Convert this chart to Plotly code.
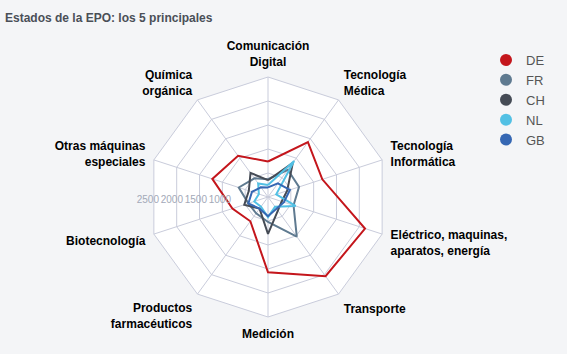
import plotly.graph_objects as go

categories = [
    "Comunicación<br>Digital",
    "Tecnología<br>Médica",
    "Tecnología<br>Informática",
    "Eléctrico, maquinas,<br>aparatos, energía",
    "Transporte",
    "Medición",
    "Productos<br>farmacéuticos",
    "Biotecnología",
    "Otras máquinas<br>especiales",
    "Química<br>orgánica",
]

DE = [740, 1415, 1190, 2125, 2040, 1570, 625, 780, 1220, 1060]
FR = [370, 700, 680, 560, 1020, 520, 420, 430, 640, 480]
CH = [350, 880, 420, 300, 350, 770, 300, 520, 420, 620]
NL = [250, 925, 180, 605, 250, 420, 250, 300, 200, 350]
GB = [200, 350, 480, 350, 300, 400, 300, 430, 350, 250]

series = [("DE", DE, "#c4161c"), ("FR", FR, "#5f7a90"), ("CH", CH, "#454b55"),
          ("NL", NL, "#52c0e4"), ("GB", GB, "#3567b3")]

radial_ticks = [0, 500, 1000, 1500, 2000, 2500]
radial_text = ["", "", "1000", "1500", "2000", "2500"]
radial_range = [0, 2500]

fig = go.Figure()
for name, vals, col in series:
    fig.add_trace(go.Scatterpolar(
        r=vals + vals[:1], theta=categories + categories[:1],
        mode="lines", line=dict(color=col, width=2),
        name=name, legendgroup=name, showlegend=False, hoverinfo="skip"))
for name, vals, col in series:
    fig.add_trace(go.Scatterpolar(
        r=[None], theta=[categories[0]], mode="markers",
        marker=dict(color=col, size=12), name=name, legendgroup=name))
# overlay polar (circular) only to carry the radial tick labels at 180 deg
fig.add_trace(go.Scatterpolar(r=[None], theta=[0], subplot="polar2",
                              showlegend=False, hoverinfo="skip"))

W, H = 567, 354
cx, cy, R = 268, 197, 120
lab_dy = 6   # vertical shift so labels sit centred on the 180-degree line
lab_dx = 11  # horizontal shift so labels are centred on their ring
dom_x = [(cx - R) / W, (cx + R) / W]
dom_y = [1 - (cy + R) / H, 1 - (cy - R) / H]
fig.update_layout(
    width=W, height=H,
    margin=dict(l=0, r=0, t=0, b=0),
    paper_bgcolor="#f4f5f7",
    font=dict(family="Liberation Sans, Arial, sans-serif", size=12, color="#333"),
    title=dict(text="<b>Estados de la EPO: los 5 principales</b>",
               x=5 / W, xanchor="left", y=1 - 18 / H, yanchor="middle",
               font=dict(size=12, color="#4a4f57")),
    polar=dict(
        domain=dict(x=dom_x, y=dom_y),
        bgcolor="white",
        gridshape="linear",
        angularaxis=dict(rotation=90, direction="clockwise",
                         gridcolor="#c9ccdb", linecolor="#c9ccdb", linewidth=1,
                         showline=True, ticks="outside", ticklen=6,
                         tickcolor="rgba(0,0,0,0)",
                         tickfont=dict(size=12, color="#000", weight="bold",
                                       family="Liberation Sans, Arial, sans-serif")),
        radialaxis=dict(range=radial_range, tickvals=radial_ticks,
                        showticklabels=False, showline=False, ticks="",
                        gridcolor="#c9ccdb"),
    ),
    polar2=dict(
        domain=dict(x=[dom_x[0] + lab_dx / W, dom_x[1] + lab_dx / W],
                    y=[dom_y[0] - lab_dy / H, dom_y[1] - lab_dy / H]),
        bgcolor="rgba(0,0,0,0)",
        angularaxis=dict(visible=False),
        radialaxis=dict(range=radial_range, tickvals=radial_ticks, ticktext=radial_text,
                        angle=180, tickangle=180, side="clockwise",
                        showline=False, showgrid=False, ticks="",
                        tickfont=dict(size=10, color="#a3a9b8")),
    ),
    legend=dict(x=486 / W, xanchor="left", y=1 - 45 / H, yanchor="top",
                bgcolor="rgba(0,0,0,0)", font=dict(size=13, color="#555"),
                tracegroupgap=0, itemsizing="constant"),
)

fig.write_html("out.html")
